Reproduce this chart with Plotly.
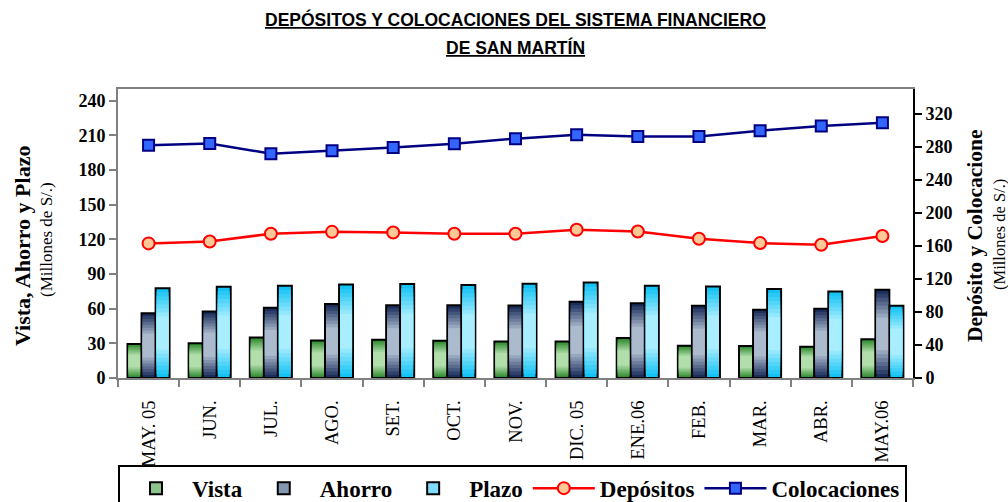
import plotly.graph_objects as go

categories = ["MAY. 05", "JUN.", "JUL.", "AGO.", "SET.", "OCT.", "NOV.",
              "DIC. 05", "ENE.06", "FEB.", "MAR.", "ABR.", "MAY.06"]
vista = [29.5, 30.0, 35.0, 32.5, 33.0, 32.3, 31.5, 31.5, 34.5, 28.0, 27.7, 27.1, 33.5]
ahorro = [56.0, 57.5, 60.7, 64.0, 63.0, 63.0, 62.7, 66.0, 64.7, 62.4, 59.0, 59.8, 76.3]
plazo = [77.7, 78.9, 79.7, 80.9, 81.3, 80.5, 81.5, 82.6, 79.7, 79.1, 76.9, 74.8, 62.4]
depositos = [163.0, 165.4, 174.7, 177.0, 176.3, 174.7, 174.7, 179.5, 177.5, 168.7, 163.4, 161.4, 171.9]
colocaciones = [282.0, 284.0, 271.7, 275.3, 279.3, 283.8, 289.9, 294.7, 292.6, 292.6, 299.5, 305.2, 309.2]

left_ticks = [0, 30, 60, 90, 120, 150, 180, 210, 240]
right_ticks = [0, 40, 80, 120, 160, 200, 240, 280, 320]

SERIF = "Liberation Serif, Times New Roman, serif"
SANS = "Liberation Sans Narrow, Arial Narrow, Liberation Sans, Arial, sans-serif"


def lerp(c1, c2, t):
    a = [int(c1[i:i + 2], 16) for i in (1, 3, 5)]
    b = [int(c2[i:i + 2], 16) for i in (1, 3, 5)]
    return "#" + "".join("%02x" % round(a[i] + (b[i] - a[i]) * t) for i in range(3))


bar_series = [
    ("Vista", vista, "#2e8a2e", "#b2deac", "#8cc48c", -0.345),
    ("Ahorro", ahorro, "#1b2e5c", "#abbacd", "#8496b0", -0.115),
    ("Plazo", plazo, "#14c2f4", "#a8eeff", "#7fdcfb", 0.115),
]
BW = 0.228
INNER = 0.196
NB = 8

fig = go.Figure()

# legend entries for bars
for name, vals, dark, light, mid, off in bar_series:
    fig.add_trace(go.Bar(
        x=categories, y=[None] * len(categories), name=name,
        marker=dict(color=mid, line=dict(color="black", width=2)),
        offset=off, width=BW, showlegend=True, hoverinfo="skip"))

for name, vals, dark, light, mid, off in bar_series:
    for k in range(NB):
        f = k * 0.045
        t = k / (NB - 1)
        w = BW if k == 0 else INNER
        o = off if k == 0 else off + (BW - INNER) / 2
        fig.add_trace(go.Bar(
            x=categories,
            y=[v * (1 - 2 * f) for v in vals],
            base=[v * f for v in vals],
            marker=dict(color=lerp(dark, light, t),
                        line=dict(color="black", width=2 if k == 0 else 0)),
            offset=o, width=w, showlegend=False, hoverinfo="skip", name=name))

fig.add_trace(go.Scatter(
    x=categories, y=depositos, name="Depósitos", yaxis="y2", mode="lines+markers",
    line=dict(color="#ff0000", width=2.5),
    marker=dict(symbol="circle", size=12, color="#ffc896",
                line=dict(color="#ff0000", width=2))))
fig.add_trace(go.Scatter(
    x=categories, y=colocaciones, name="Colocaciones", yaxis="y2", mode="lines+markers",
    line=dict(color="#000080", width=2.5),
    marker=dict(symbol="square", size=11, color="#3366ff",
                line=dict(color="#000080", width=2))))

fig.update_layout(
    width=1008, height=502,
    margin=dict(l=118, r=95, t=89, b=124, autoexpand=False),
    paper_bgcolor="white", plot_bgcolor="white",
    barmode="overlay",
    showlegend=True,
    legend=dict(orientation="h", x=0, xanchor="left", y=-0.300, yanchor="top",
                font=dict(family=SERIF, size=23, color="black", weight="bold"),
                bordercolor="black", borderwidth=2, bgcolor="white",
                itemwidth=62, traceorder="normal", tracegroupgap=0),
    xaxis=dict(type="category", tickangle=-90, tickson="boundaries",
               ticks="outside", ticklen=7, tickwidth=2, tickcolor="#808080",
               showline=True, linecolor="#808080", linewidth=2, mirror=True,
               showgrid=False, ticklabelstandoff=13,
               tickfont=dict(family=SERIF, size=18.5, color="black"),
               range=[-0.5, len(categories) - 0.5]),
    yaxis=dict(range=[0, 250], tickvals=left_ticks, ticks="outside", ticklen=7,
               tickwidth=2, tickcolor="#808080", showline=True, linecolor="#808080",
               linewidth=2, showgrid=False, zeroline=False,
               tickfont=dict(family=SERIF, size=18, color="black", weight="bold")),
    yaxis2=dict(range=[0, 350], tickvals=right_ticks, overlaying="y", side="right",
                ticks="outside", ticklen=7, tickwidth=2, tickcolor="black",
                showline=True, linecolor="black", linewidth=2, showgrid=False,
                zeroline=False,
                tickfont=dict(family=SERIF, size=18, color="black", weight="bold")),
    annotations=[
        dict(text="<b><u>DEPÓSITOS Y COLOCACIONES DEL SISTEMA FINANCIERO</u></b>",
             xref="paper", yref="paper", x=0.5, y=(378 - 20) / 289, xanchor="center",
             yanchor="middle", showarrow=False,
             font=dict(family=SANS, size=17.5, color="black")),
        dict(text="<b><u>DE SAN MARTÍN</u></b>",
             xref="paper", yref="paper", x=0.5, y=(378 - 47) / 289, xanchor="center",
             yanchor="middle", showarrow=False,
             font=dict(family=SANS, size=17.5, color="black")),
        dict(text="<b>Vista, Ahorro y Plazo</b>", textangle=-90,
             xref="paper", yref="paper", x=(22 - 118) / 795, y=(378 - 246) / 289,
             xanchor="center", yanchor="middle", showarrow=False,
             font=dict(family=SERIF, size=22, color="black")),
        dict(text="(Millones de S/.)", textangle=-90,
             xref="paper", yref="paper", x=(46 - 118) / 795, y=(378 - 240) / 289,
             xanchor="center", yanchor="middle", showarrow=False,
             font=dict(family=SERIF, size=17, color="black")),
        dict(text="<b>Depósito y Colocacione</b>", textangle=-90,
             xref="paper", yref="paper", x=(975 - 118) / 795, y=(378 - 236) / 289,
             xanchor="center", yanchor="middle", showarrow=False,
             font=dict(family=SERIF, size=21.5, color="black")),
        dict(text="(Millones de S/.)", textangle=-90,
             xref="paper", yref="paper", x=(999 - 118) / 795, y=(378 - 235) / 289,
             xanchor="center", yanchor="middle", showarrow=False,
             font=dict(family=SERIF, size=16.5, color="black")),
    ],
)

fig.write_html("out.html", config={"displayModeBar": False},
               post_script="document.body.style.margin='0px';")
